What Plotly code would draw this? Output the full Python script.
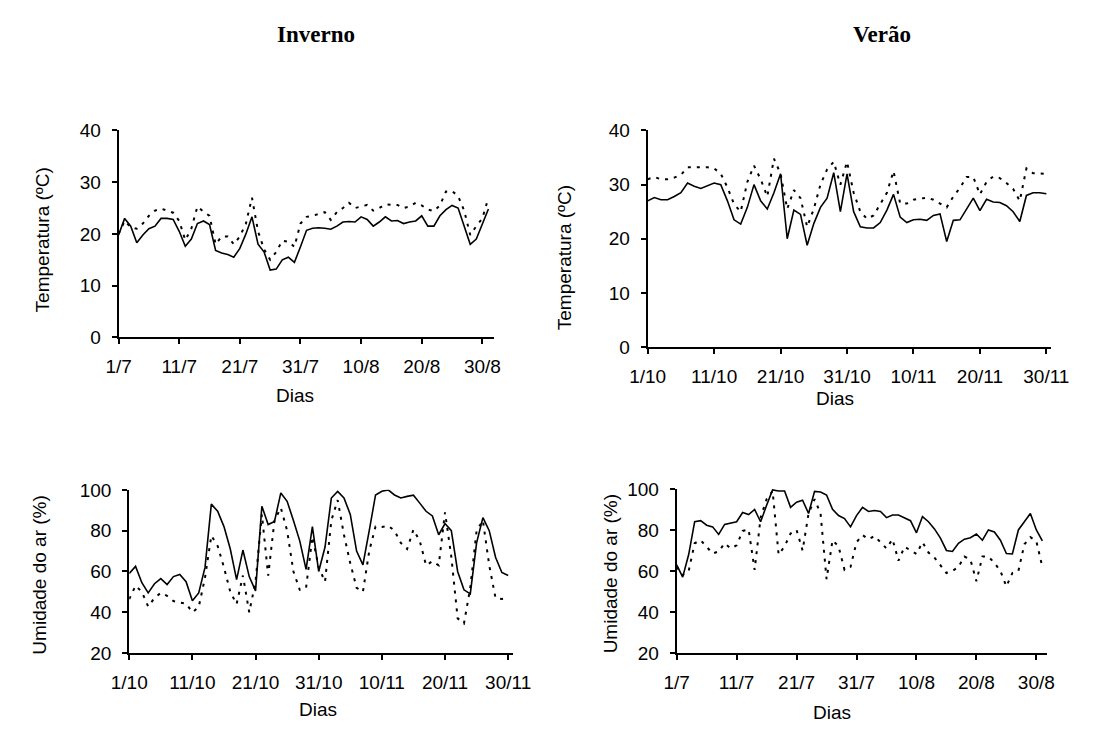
import pandas as pd
import plotly.graph_objects as go

# ---------------- data ----------------
# Inverno - temperatura (1/7 .. 31/8)
inv_days = [d.strftime("%-d/%-m") for d in pd.date_range("2000-07-01", "2000-08-31")]
inv_temp_solid = [19.8, 23.0, 21.5, 18.3, 19.8, 21.0, 21.5, 23.0, 23.0, 22.8,
                  20.5, 17.6, 19.0, 22.0, 22.5, 21.8, 16.8, 16.3, 16.0, 15.5,
                  17.2, 20.0, 23.3, 18.0, 16.5, 13.0, 13.2, 15.0, 15.5, 14.5,
                  17.5, 20.7, 21.1, 21.2, 21.1, 20.9, 21.5, 22.3, 22.4, 22.3,
                  23.3, 22.8, 21.5, 22.3, 23.3, 22.5, 22.6, 22.0, 22.3, 22.5,
                  23.5, 21.5, 21.5, 23.5, 24.7, 25.5, 25.0, 21.5, 18.0, 19.0,
                  21.8, 24.8]
inv_temp_dot = [20.0, 22.5, 21.3, 21.0, 22.0, 23.5, 24.5, 24.9, 24.5, 24.1,
                22.5, 18.8, 21.0, 25.3, 24.3, 23.5, 18.0, 19.5, 19.5, 18.0,
                19.5, 22.0, 27.0, 20.5, 17.0, 15.0, 16.5, 18.7, 18.5, 17.5,
                22.0, 23.3, 23.5, 23.8, 24.2, 22.7, 24.2, 25.0, 26.0, 25.0,
                25.3, 25.6, 24.5, 25.0, 25.7, 25.7, 25.6, 25.0, 25.3, 26.0,
                25.5, 24.7, 24.4, 25.5, 28.2, 28.3, 27.3, 24.5, 19.8, 21.5,
                23.0, 27.0]

# Verao - temperatura (1/10 .. 30/11)
ver_days = [d.strftime("%-d/%-m") for d in pd.date_range("2000-10-01", "2000-11-30")]
ver_temp_solid = [27.0, 27.6, 27.2, 27.2, 27.8, 28.5, 30.3, 29.7, 29.3, 29.8,
                  30.3, 30.0, 27.0, 23.5, 22.7, 25.8, 30.0, 27.0, 25.5, 28.5,
                  32.0, 20.0, 25.3, 24.5, 18.8, 22.8, 25.8, 27.5, 32.2, 25.0,
                  32.0, 25.0, 22.2, 22.0, 22.0, 23.0, 25.3, 28.2, 24.0, 23.0,
                  23.5, 23.6, 23.4, 24.3, 24.6, 19.5, 23.4, 23.5, 25.5, 27.5,
                  25.2, 27.3, 26.8, 26.7, 26.1, 25.0, 23.2, 28.0, 28.5, 28.5,
                  28.3]
ver_temp_dot = [31.0, 31.4, 31.0, 31.0, 31.3, 31.8, 33.2, 33.2, 33.2, 33.2,
                33.0, 32.0, 29.5, 26.4, 25.0, 30.5, 33.5, 31.0, 27.8, 34.8,
                32.0, 25.5, 29.0, 27.5, 22.2, 25.5, 30.0, 32.8, 34.2, 30.0,
                34.2, 28.5, 25.0, 23.7, 24.3, 26.5, 28.5, 32.5, 26.5, 26.5,
                27.2, 27.4, 27.6, 27.2, 26.5, 25.8, 27.8, 29.4, 31.4, 31.4,
                28.2, 30.5, 31.5, 31.2, 30.3, 29.2, 27.0, 33.0, 32.1, 32.1,
                32.0]

# Umidade (painel esquerdo, eixo 1/10 .. 30/11)
umid_left_days = ver_days
inv_umid_solid = [59.0, 62.5, 54.5, 49.5, 54.0, 56.5, 53.6, 57.5, 58.5, 55.0,
                  45.6, 49.5, 62.0, 93.0, 89.5, 82.0, 71.0, 56.0, 70.5, 57.5,
                  50.5, 92.0, 83.0, 84.5, 98.5, 94.4, 85.0, 75.0, 61.0, 82.0,
                  60.0, 72.0, 96.0, 99.2, 96.0, 88.0, 70.0, 63.2, 80.0, 97.5,
                  99.3, 100.0, 97.5, 96.0, 96.8, 97.4, 93.5, 89.5, 87.2, 78.0,
                  83.5, 80.0, 60.0, 51.0, 49.0, 74.0, 86.4, 80.0, 67.0, 59.5,
                  58.0]
inv_umid_dot = [46.5, 53.0, 50.0, 42.8, 47.0, 49.5, 48.0, 45.5, 44.8, 44.2,
                40.0, 42.5, 57.0, 77.6, 72.5, 62.0, 50.0, 44.0, 58.0, 40.0,
                55.0, 88.0, 58.0, 85.0, 91.2, 80.0, 60.0, 51.0, 52.0, 77.0,
                62.0, 55.0, 85.0, 95.0, 78.0, 64.0, 52.0, 50.0, 70.0, 82.0,
                81.8, 82.4, 80.0, 74.0, 71.0, 80.5, 75.0, 63.0, 65.0, 63.0,
                89.0, 67.2, 37.0, 34.5, 52.0, 80.0, 85.0, 63.0, 47.0, 46.5,
                47.0]

# Umidade (painel direito, eixo 1/7 .. 31/8)
umid_right_days = inv_days
ver_umid_solid = [63.0, 57.0, 68.0, 84.0, 84.5, 82.3, 81.5, 77.8, 82.7, 83.5,
                  84.0, 88.5, 87.5, 90.0, 84.0, 92.0, 99.5, 99.0, 99.0, 91.0,
                  93.5, 94.5, 88.0, 98.8, 98.5, 97.0, 90.0, 87.0, 85.5, 81.5,
                  87.0, 91.0, 89.0, 89.5, 89.0, 86.0, 87.3, 87.3, 86.0, 84.5,
                  78.6, 86.5, 84.0, 80.5, 76.0, 70.0, 69.5, 73.5, 75.5, 76.2,
                  78.0, 75.0, 80.0, 79.0, 75.0, 68.5, 68.3, 80.0, 84.0, 88.0,
                  80.0, 74.7]
ver_umid_dot = [62.0, 58.0, 60.0, 73.5, 75.0, 71.5, 68.5, 69.5, 73.5, 71.0,
                72.5, 79.5, 80.2, 60.5, 86.0, 95.0, 99.0, 68.0, 72.0, 78.3,
                80.0, 70.0, 88.0, 95.0, 88.0, 56.0, 75.0, 72.0, 60.5, 62.0,
                74.0, 77.5, 75.5, 77.0, 74.0, 71.0, 75.5, 65.0, 71.8, 70.0,
                68.3, 74.0, 69.0, 66.5, 63.0, 59.0, 60.0, 62.0, 67.0, 65.5,
                55.0, 67.0, 67.0, 64.0, 60.0, 52.5, 59.0, 60.0, 73.0, 76.5,
                74.5, 62.0]

# text
titles = ["Inverno", "Verão"]
temp_label = "Temperatura (ºC)"
umid_label = "Umidade do ar (%)"
x_label = "Dias"

# ---------------- figure ----------------
W, H = 1099, 734
FONT = "Liberation Sans, Arial, sans-serif"
TSIZE = 19

def px_x(p):
    return p / W

def px_y(p):
    return 1 - p / H

fig = go.Figure()

panels = [
    (inv_days, inv_temp_solid, inv_temp_dot, "x", "y"),
    (ver_days, ver_temp_solid, ver_temp_dot, "x2", "y2"),
    (umid_left_days, inv_umid_solid, inv_umid_dot, "x3", "y3"),
    (umid_right_days, ver_umid_solid, ver_umid_dot, "x4", "y4"),
]

for days, solid, dot, xa, ya in panels:
    fig.add_trace(go.Scatter(x=days[:len(dot)], y=dot, mode="lines", xaxis=xa, yaxis=ya,
                             line=dict(color="black", width=2, dash="3px,6px"),
                             showlegend=False, hoverinfo="x+y"))
    fig.add_trace(go.Scatter(x=days[:len(solid)], y=solid, mode="lines", xaxis=xa, yaxis=ya,
                             line=dict(color="black", width=1.6),
                             showlegend=False, hoverinfo="x+y"))

# panel geometry in pixels: (left, right, top, bottom), x range end, y range
geo = [
    ((104, 492, 124, 337), 61.9, [0, 40], 10, inv_days),
    ((651, 1068, 124, 347), 60.7, [0, 40], 10, ver_days),
    ((115, 512, 494, 662), 60.8, [20, 100], 20, umid_left_days),
    ((681, 1064, 493, 662), 61.8, [20, 100], 20, umid_right_days),
]

axis_common = dict(showline=True, linecolor="black", linewidth=2, ticks="outside",
                   ticklen=5, tickwidth=1.5, tickcolor="black", showgrid=False,
                   zeroline=False, tickfont=dict(family=FONT, size=TSIZE, color="black"))

for k, ((l, r, t, b), xend, yr, dy, days) in enumerate(geo):
    sx = "" if k == 0 else str(k + 1)
    fig.layout["xaxis" + sx] = dict(
        axis_common, domain=[px_x(l), px_x(r)], anchor="y" + sx, type="category",
        range=[0, xend], tickmode="array", tickvals=days[::10][:7], ticktext=days[::10][:7],
        ticklabelstandoff=6, fixedrange=True)
    fig.layout["yaxis" + sx] = dict(
        axis_common, domain=[px_y(b), px_y(t)], anchor="x" + sx, range=yr, dtick=dy,
        tick0=yr[0], ticklabelstandoff=7, fixedrange=True)

ann = []
for txt, x in zip(titles, [308, 893]):
    ann.append(dict(text="<b>" + txt + "</b>", x=px_x(x), y=px_y(25), xref="paper", yref="paper",
                    showarrow=False, xanchor="center", yanchor="middle",
                    font=dict(family="Liberation Serif, Times New Roman, serif", size=23, color="black")))
for txt, x, y in [(temp_label, 25, 237), (temp_label, 565, 255),
                  (umid_label, 22, 582), (umid_label, 612, 580)]:
    ann.append(dict(text=txt, x=px_x(x), y=px_y(y), xref="paper", yref="paper", textangle=-90,
                    showarrow=False, xanchor="center", yanchor="middle",
                    font=dict(family=FONT, size=TSIZE, color="black")))
for x, y in [(286, 397), (845, 400), (310, 720), (842, 723)]:
    ann.append(dict(text=x_label, x=px_x(x), y=px_y(y), xref="paper", yref="paper",
                    showarrow=False, xanchor="center", yanchor="middle",
                    font=dict(family=FONT, size=TSIZE, color="black")))

fig.update_layout(width=W, height=H, margin=dict(l=0, r=0, t=0, b=0),
                  paper_bgcolor="white", plot_bgcolor="white", annotations=ann,
                  showlegend=False)

fig.write_html("out.html", config={"displayModeBar": False},
               post_script="document.body.style.margin='0';")
